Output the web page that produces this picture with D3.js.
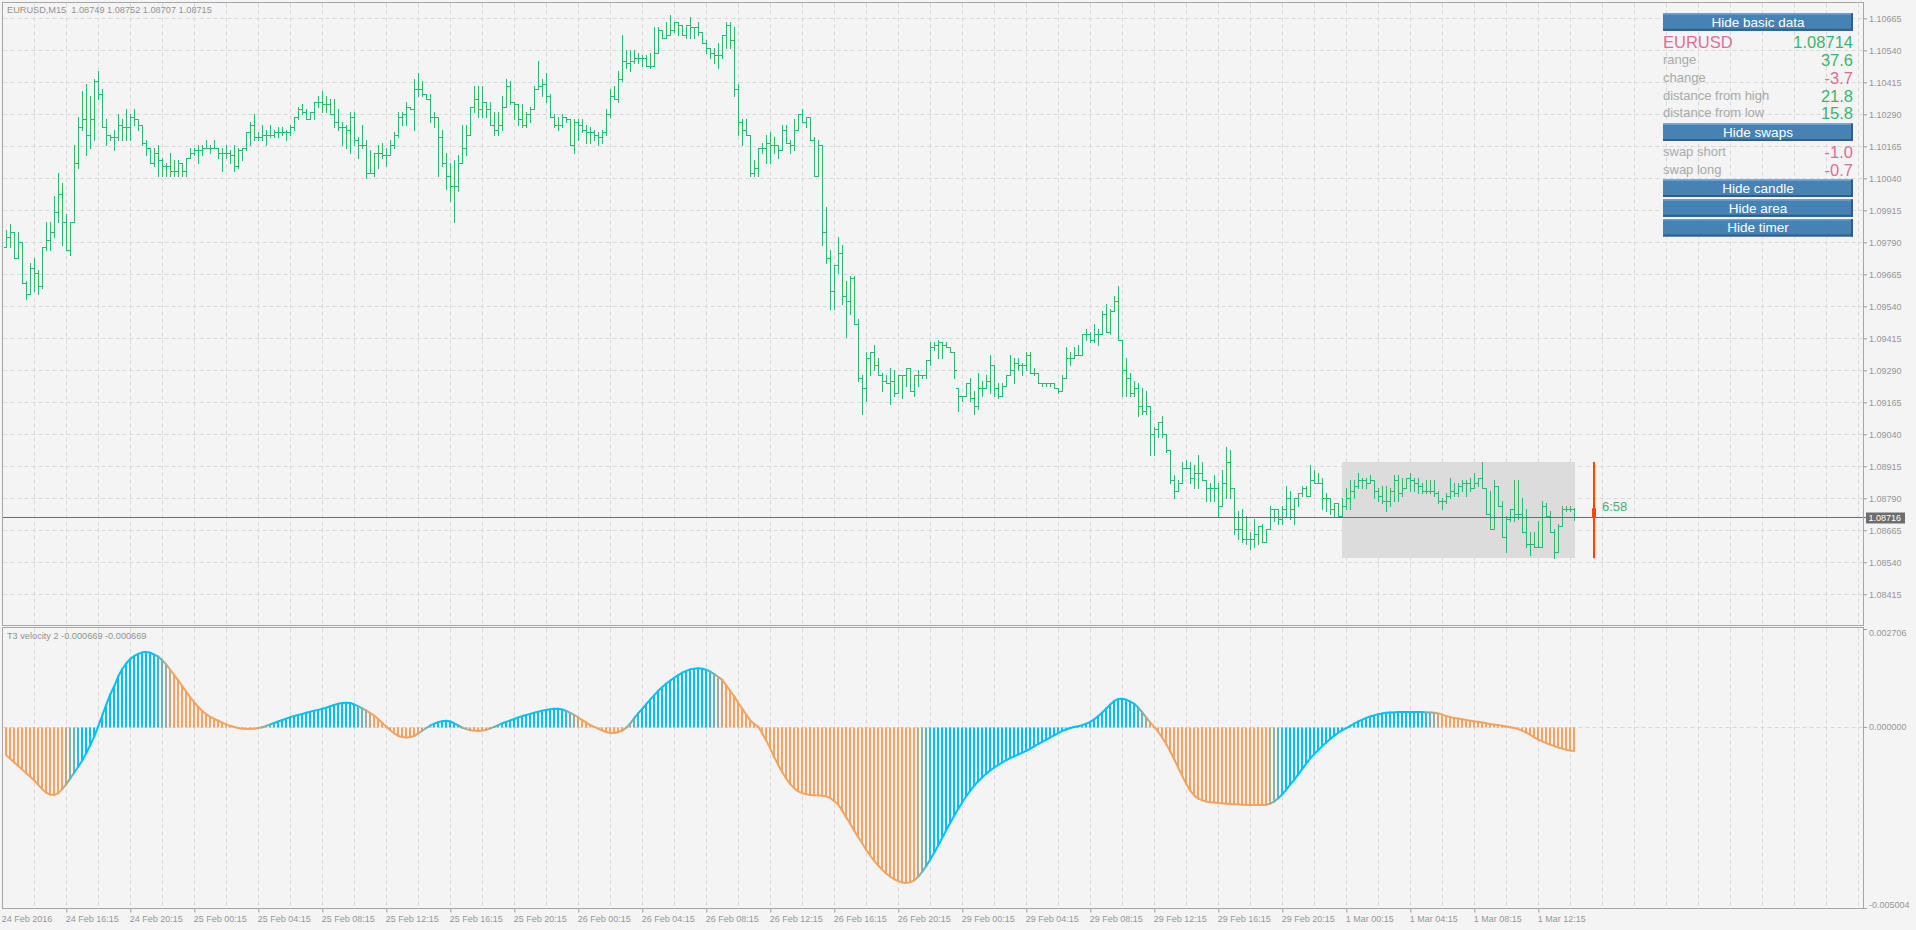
<!DOCTYPE html>
<html><head><meta charset="utf-8">
<script src="https://cdn.jsdelivr.net/npm/d3@7"></script>
<style>html,body{margin:0;padding:0;background:#f4f4f4;overflow:hidden}svg{display:block}text{font-family:"Liberation Sans",Arial,sans-serif}</style>
</head><body>
<svg id="c" width="1916" height="930"></svg>
<script>
// ---------- DATA ----------
const symbol = "EURUSD";
const timeframe = "M15";
const indicatorName = "T3 velocity 2";
const priceTicks = [1.10665,1.10540,1.10415,1.10290,1.10165,1.10040,1.09915,1.09790,1.09665,1.09540,1.09415,1.09290,1.09165,1.09040,1.08915,1.08790,1.08665,1.08540,1.08415];
const velocityTicks = [0.002706, 0, -0.005004];
const timeLabels = ["24 Feb 2016","24 Feb 16:15","24 Feb 20:15","25 Feb 00:15","25 Feb 04:15","25 Feb 08:15","25 Feb 12:15","25 Feb 16:15","25 Feb 20:15","26 Feb 00:15","26 Feb 04:15","26 Feb 08:15","26 Feb 12:15","26 Feb 16:15","26 Feb 20:15","29 Feb 00:15","29 Feb 04:15","29 Feb 08:15","29 Feb 12:15","29 Feb 16:15","29 Feb 20:15","1 Mar 00:15","1 Mar 04:15","1 Mar 08:15","1 Mar 12:15"];

const opens = [
1.0977,1.0981,1.0983,1.0973,1.0979,1.0963,1.0959,1.0969,1.0967,1.0962,
1.0977,1.0980,1.0983,1.0991,1.0998,1.0987,1.0976,1.0987,1.1010,1.1024,
1.1027,1.1021,1.1027,1.1042,1.1037,1.1024,1.1021,1.1020,1.1020,1.1025,
1.1024,1.1024,1.1028,1.1027,1.1025,1.1018,1.1016,1.1010,1.1014,1.1011,
1.1009,1.1009,1.1007,1.1007,1.1010,1.1007,1.1012,1.1014,1.1015,1.1015,
1.1016,1.1016,1.1016,1.1016,1.1014,1.1014,1.1014,1.1013,1.1009,1.1015,
1.1016,1.1022,1.1025,1.1020,1.1020,1.1021,1.1021,1.1021,1.1022,1.1022,
1.1022,1.1022,1.1024,1.1028,1.1031,1.1030,1.1027,1.1030,1.1034,1.1034,
1.1033,1.1033,1.1029,1.1026,1.1024,1.1024,1.1023,1.1028,1.1019,1.1017,
1.1017,1.1006,1.1006,1.1014,1.1014,1.1013,1.1013,1.1017,1.1021,1.1028,
1.1029,1.1032,1.1031,1.1039,1.1039,1.1037,1.1035,1.1028,1.1028,1.1020,
1.1010,1.1005,1.1001,1.1001,1.1010,1.1016,1.1021,1.1032,1.1035,1.1031,
1.1034,1.1031,1.1025,1.1023,1.1025,1.1032,1.1040,1.1034,1.1033,1.1027,
1.1025,1.1029,1.1031,1.1039,1.1040,1.1041,1.1036,1.1028,1.1025,1.1025,
1.1028,1.1027,1.1017,1.1026,1.1025,1.1023,1.1022,1.1022,1.1021,1.1020,
1.1022,1.1029,1.1036,1.1035,1.1043,1.1050,1.1049,1.1050,1.1051,1.1051,
1.1051,1.1048,1.1048,1.1053,1.1062,1.1059,1.1060,1.1062,1.1065,1.1064,
1.1060,1.1064,1.1063,1.1063,1.1061,1.1057,1.1055,1.1053,1.1052,1.1052,
1.1060,1.1064,1.1058,1.1039,1.1026,1.1023,1.1021,1.1006,1.1008,1.1016,
1.1016,1.1018,1.1017,1.1017,1.1015,1.1023,1.1018,1.1017,1.1023,1.1029,
1.1026,1.1028,1.1019,1.1005,1.1017,1.0983,1.0973,1.0960,1.0970,1.0975,
1.0958,1.0956,1.0965,1.0947,1.0926,1.0922,1.0934,1.0936,1.0931,1.0927,
1.0925,1.0924,1.0925,1.0920,1.0927,1.0927,1.0930,1.0921,1.0927,1.0927,
1.0927,1.0933,1.0938,1.0939,1.0940,1.0939,1.0938,1.0936,1.0922,1.0919,
1.0919,1.0924,1.0918,1.0915,1.0922,1.0922,1.0925,1.0931,1.0922,1.0919,
1.0923,1.0927,1.0929,1.0932,1.0931,1.0931,1.0935,1.0928,1.0928,1.0924,
1.0924,1.0924,1.0924,1.0922,1.0921,1.0926,1.0934,1.0934,1.0935,1.0935,
1.0943,1.0943,1.0941,1.0943,1.0943,1.0951,1.0944,1.0952,1.0956,1.0941,
1.0929,1.0926,1.0920,1.0922,1.0915,1.0913,1.0915,1.0904,1.0906,1.0909,
1.0904,1.0898,1.0886,1.0882,1.0885,1.0891,1.0891,1.0887,1.0889,1.0889,
1.0886,1.0883,1.0883,1.0883,1.0876,1.0885,1.0893,1.0883,1.0867,1.0867,
1.0863,1.0863,1.0863,1.0865,1.0868,1.0862,1.0867,1.0875,1.0875,1.0871,
1.0875,1.0879,1.0875,1.0879,1.0881,1.0883,1.0880,1.0886,1.0885,1.0885,
1.0879,1.0879,1.0875,1.0877,1.0872,1.0876,1.0879,1.0882,1.0884,1.0886,
1.0886,1.0885,1.0886,1.0882,1.0880,1.0878,1.0878,1.0882,1.0886,1.0881,
1.0883,1.0887,1.0886,1.0885,1.0884,1.0882,1.0882,1.0882,1.0881,1.0878,
1.0878,1.0880,1.0882,1.0881,1.0884,1.0885,1.0885,1.0883,1.0885,1.0887,
1.0883,1.0873,1.0867,1.0884,1.0876,1.0864,1.0871,1.0875,1.0873,1.0873,
1.0866,1.0861,1.0861,1.0860,1.0860,1.0876,1.0872,1.0866,1.0858,1.0868,
1.0875,1.0875,1.08749];

const highs = [
1.0984,1.0986,1.0983,1.0983,1.0979,1.0964,1.0971,1.0973,1.0968,1.0977,
1.0987,1.0987,1.0997,1.1006,1.1002,1.0990,1.0987,1.1017,1.1028,1.1038,
1.1041,1.1036,1.1043,1.1046,1.1039,1.1027,1.1021,1.1023,1.1029,1.1027,
1.1031,1.1029,1.1031,1.1027,1.1025,1.1019,1.1016,1.1016,1.1017,1.1012,
1.1010,1.1014,1.1011,1.1011,1.1010,1.1012,1.1016,1.1016,1.1017,1.1017,
1.1019,1.1017,1.1019,1.1016,1.1016,1.1017,1.1015,1.1017,1.1016,1.1016,
1.1022,1.1026,1.1029,1.1022,1.1025,1.1023,1.1025,1.1023,1.1024,1.1024,
1.1023,1.1025,1.1028,1.1032,1.1033,1.1031,1.1030,1.1034,1.1036,1.1038,
1.1036,1.1035,1.1035,1.1031,1.1026,1.1025,1.1030,1.1030,1.1020,1.1025,
1.1019,1.1015,1.1014,1.1017,1.1018,1.1016,1.1019,1.1022,1.1030,1.1030,
1.1034,1.1032,1.1043,1.1045,1.1042,1.1037,1.1037,1.1030,1.1028,1.1023,
1.1014,1.1010,1.1011,1.1013,1.1025,1.1025,1.1032,1.1040,1.1040,1.1040,
1.1034,1.1034,1.1030,1.1030,1.1036,1.1043,1.1042,1.1034,1.1033,1.1033,
1.1030,1.1032,1.1040,1.1050,1.1043,1.1045,1.1037,1.1029,1.1028,1.1029,
1.1028,1.1027,1.1027,1.1027,1.1027,1.1025,1.1024,1.1023,1.1022,1.1023,
1.1031,1.1039,1.1040,1.1046,1.1060,1.1054,1.1054,1.1054,1.1053,1.1052,
1.1052,1.1053,1.1063,1.1063,1.1062,1.1065,1.1068,1.1065,1.1065,1.1064,
1.1064,1.1067,1.1063,1.1065,1.1061,1.1058,1.1055,1.1055,1.1057,1.1060,
1.1065,1.1065,1.1063,1.1041,1.1027,1.1027,1.1021,1.1011,1.1016,1.1018,
1.1021,1.1022,1.1020,1.1017,1.1025,1.1025,1.1019,1.1027,1.1029,1.1031,
1.1028,1.1028,1.1020,1.1019,1.1017,1.0993,1.0976,1.0970,1.0981,1.0978,
1.0964,1.0966,1.0966,1.0949,1.0927,1.0936,1.0936,1.0939,1.0934,1.0928,
1.0927,1.0930,1.0929,1.0927,1.0927,1.0930,1.0930,1.0927,1.0929,1.0927,
1.0933,1.0940,1.0940,1.0941,1.0940,1.0940,1.0938,1.0936,1.0922,1.0919,
1.0924,1.0926,1.0921,1.0928,1.0925,1.0927,1.0935,1.0931,1.0924,1.0924,
1.0927,1.0935,1.0934,1.0934,1.0932,1.0936,1.0936,1.0930,1.0928,1.0924,
1.0924,1.0924,1.0924,1.0922,1.0927,1.0938,1.0936,1.0938,1.0939,1.0943,
1.0945,1.0944,1.0947,1.0945,1.0952,1.0955,1.0953,1.0958,1.0962,1.0941,
1.0934,1.0928,1.0925,1.0924,1.0922,1.0921,1.0915,1.0907,1.0909,1.0911,
1.0904,1.0898,1.0888,1.0886,1.0893,1.0894,1.0893,1.0892,1.0896,1.0893,
1.0886,1.0885,1.0888,1.0885,1.0890,1.0899,1.0898,1.0883,1.0874,1.0875,
1.0872,1.0866,1.0871,1.0868,1.0869,1.0867,1.0876,1.0875,1.0875,1.0876,
1.0884,1.0882,1.0879,1.0881,1.0884,1.0884,1.0892,1.0890,1.0889,1.0887,
1.0881,1.0879,1.0877,1.0877,1.0879,1.0883,1.0886,1.0886,1.0889,1.0887,
1.0887,1.0888,1.0886,1.0883,1.0884,1.0884,1.0883,1.0888,1.0888,1.0887,
1.0887,1.0889,1.0887,1.0887,1.0885,1.0886,1.0886,1.0886,1.0882,1.0879,
1.0881,1.0887,1.0885,1.0885,1.0886,1.0886,1.0887,1.0889,1.0887,1.08932,
1.0883,1.0882,1.0886,1.0884,1.0878,1.0872,1.0875,1.0886,1.0886,1.0879,
1.0875,1.0866,1.0866,1.0870,1.0878,1.0877,1.0874,1.0867,1.0869,1.0876,
1.0876,1.0876,1.08752];

const lows = [
1.0977,1.0977,1.0973,1.0973,1.0963,1.0957,1.0959,1.0960,1.0959,1.0961,
1.0976,1.0976,1.0981,1.0987,1.0978,1.0976,1.0974,1.0987,1.1008,1.1023,
1.1013,1.1016,1.1019,1.1035,1.1024,1.1017,1.1019,1.1015,1.1019,1.1019,
1.1019,1.1019,1.1025,1.1023,1.1017,1.1013,1.1010,1.1009,1.1005,1.1005,
1.1005,1.1005,1.1005,1.1005,1.1005,1.1005,1.1012,1.1013,1.1010,1.1013,
1.1016,1.1014,1.1016,1.1012,1.1007,1.1012,1.1010,1.1007,1.1008,1.1011,
1.1015,1.1017,1.1019,1.1019,1.1019,1.1017,1.1020,1.1020,1.1020,1.1021,
1.1019,1.1021,1.1023,1.1027,1.1029,1.1027,1.1027,1.1027,1.1032,1.1030,
1.1030,1.1029,1.1024,1.1023,1.1017,1.1016,1.1014,1.1017,1.1012,1.1016,
1.1004,1.1006,1.1005,1.1008,1.1012,1.1009,1.1013,1.1016,1.1020,1.1025,
1.1025,1.1031,1.1023,1.1036,1.1036,1.1035,1.1026,1.1024,1.1005,1.1009,
1.1000,1.0995,1.0987,1.0999,1.1010,1.1013,1.1021,1.1030,1.1028,1.1028,
1.1028,1.1025,1.1021,1.1021,1.1023,1.1032,1.1033,1.1027,1.1025,1.1024,
1.1024,1.1026,1.1031,1.1039,1.1036,1.1034,1.1028,1.1024,1.1023,1.1024,
1.1026,1.1017,1.1014,1.1019,1.1022,1.1018,1.1018,1.1019,1.1017,1.1018,
1.1021,1.1028,1.1035,1.1034,1.1042,1.1047,1.1046,1.1049,1.1049,1.1048,
1.1048,1.1047,1.1048,1.1053,1.1059,1.1059,1.1060,1.1061,1.1060,1.1060,
1.1059,1.1059,1.1059,1.1060,1.1057,1.1053,1.1051,1.1049,1.1047,1.1051,
1.1055,1.1055,1.1036,1.1021,1.1017,1.1021,1.1005,1.1005,1.1005,1.1014,
1.1010,1.1010,1.1014,1.1012,1.1015,1.1018,1.1014,1.1015,1.1023,1.1026,
1.1024,1.1019,1.1005,1.1005,1.0978,1.0971,1.0953,1.0953,1.0967,1.0955,
1.0942,1.0951,1.0947,1.0925,1.0912,1.0917,1.0927,1.0929,1.0927,1.0921,
1.0924,1.0916,1.0919,1.0920,1.0918,1.0923,1.0921,1.0919,1.0923,1.0926,
1.0926,1.0931,1.0937,1.0934,1.0934,1.0938,1.0936,1.0926,1.0913,1.0917,
1.0919,1.0917,1.0912,1.0914,1.0919,1.0922,1.0920,1.0919,1.0918,1.0919,
1.0923,1.0927,1.0924,1.0929,1.0927,1.0929,1.0928,1.0927,1.0924,1.0923,
1.0923,1.0923,1.0922,1.0920,1.0921,1.0926,1.0931,1.0934,1.0935,1.0935,
1.0941,1.0940,1.0940,1.0939,1.0943,1.0944,1.0943,1.0952,1.0941,1.0919,
1.0919,1.0919,1.0919,1.0911,1.0912,1.0912,1.0896,1.0896,1.0903,1.0903,
1.0897,1.0885,1.0879,1.0882,1.0885,1.0891,1.0885,1.0883,1.0883,1.0886,
1.0878,1.0878,1.0878,1.0872,1.0876,1.0879,1.0879,1.0865,1.0863,1.0862,
1.0861,1.0859,1.0860,1.0861,1.0862,1.0862,1.0867,1.0870,1.0869,1.0869,
1.0872,1.0871,1.0869,1.0876,1.0880,1.0880,1.0880,1.0885,1.0885,1.0875,
1.0874,1.0873,1.0872,1.0872,1.0872,1.0875,1.0875,1.0879,1.0883,1.0883,
1.0883,1.0885,1.0879,1.0878,1.0877,1.0874,1.0876,1.0878,1.0878,1.0880,
1.0883,1.0882,1.0882,1.0881,1.0881,1.0881,1.0881,1.0880,1.0877,1.0875,
1.0877,1.0879,1.0880,1.0880,1.0882,1.0880,1.0882,1.0883,1.0884,1.0883,
1.0873,1.0867,1.0867,1.0876,1.0864,1.0858,1.0870,1.0870,1.0871,1.0866,
1.0860,1.0857,1.0860,1.0860,1.0860,1.0872,1.0866,1.08556,1.0858,1.0868,
1.0874,1.0874,1.08707];

const closes = [
1.0981,1.0983,1.0973,1.0979,1.0963,1.0959,1.0969,1.0967,1.0962,1.0977,
1.0980,1.0983,1.0991,1.0998,1.0987,1.0976,1.0987,1.1010,1.1024,1.1027,
1.1021,1.1027,1.1042,1.1037,1.1024,1.1021,1.1020,1.1020,1.1025,1.1024,
1.1024,1.1028,1.1027,1.1025,1.1018,1.1016,1.1010,1.1014,1.1011,1.1009,
1.1009,1.1007,1.1007,1.1010,1.1007,1.1012,1.1014,1.1015,1.1015,1.1016,
1.1016,1.1016,1.1016,1.1014,1.1014,1.1014,1.1013,1.1009,1.1015,1.1016,
1.1022,1.1025,1.1020,1.1020,1.1021,1.1021,1.1021,1.1022,1.1022,1.1022,
1.1022,1.1024,1.1028,1.1031,1.1030,1.1027,1.1030,1.1034,1.1034,1.1033,
1.1033,1.1029,1.1026,1.1024,1.1024,1.1023,1.1028,1.1019,1.1017,1.1017,
1.1006,1.1006,1.1014,1.1014,1.1013,1.1013,1.1017,1.1021,1.1028,1.1029,
1.1032,1.1031,1.1039,1.1039,1.1037,1.1035,1.1028,1.1028,1.1020,1.1010,
1.1005,1.1001,1.1001,1.1010,1.1016,1.1021,1.1032,1.1035,1.1031,1.1034,
1.1031,1.1025,1.1023,1.1025,1.1032,1.1040,1.1034,1.1033,1.1027,1.1025,
1.1029,1.1031,1.1039,1.1040,1.1041,1.1036,1.1028,1.1025,1.1025,1.1028,
1.1027,1.1017,1.1026,1.1025,1.1023,1.1022,1.1022,1.1021,1.1020,1.1022,
1.1029,1.1036,1.1035,1.1043,1.1050,1.1049,1.1050,1.1051,1.1051,1.1051,
1.1048,1.1048,1.1053,1.1062,1.1059,1.1060,1.1062,1.1065,1.1064,1.1060,
1.1064,1.1063,1.1063,1.1061,1.1057,1.1055,1.1053,1.1052,1.1052,1.1060,
1.1064,1.1058,1.1039,1.1026,1.1023,1.1021,1.1006,1.1008,1.1016,1.1016,
1.1018,1.1017,1.1017,1.1015,1.1023,1.1018,1.1017,1.1023,1.1029,1.1026,
1.1028,1.1019,1.1005,1.1017,1.0983,1.0973,1.0960,1.0970,1.0975,1.0958,
1.0956,1.0965,1.0947,1.0926,1.0922,1.0934,1.0936,1.0931,1.0927,1.0925,
1.0924,1.0925,1.0920,1.0927,1.0927,1.0930,1.0921,1.0927,1.0927,1.0927,
1.0933,1.0938,1.0939,1.0940,1.0939,1.0938,1.0936,1.0929,1.0919,1.0919,
1.0924,1.0918,1.0915,1.0922,1.0922,1.0925,1.0931,1.0922,1.0919,1.0923,
1.0927,1.0929,1.0932,1.0931,1.0931,1.0935,1.0928,1.0928,1.0924,1.0924,
1.0924,1.0924,1.0922,1.0921,1.0926,1.0934,1.0934,1.0935,1.0935,1.0943,
1.0943,1.0941,1.0943,1.0943,1.0951,1.0944,1.0952,1.0956,1.0941,1.0929,
1.0926,1.0920,1.0922,1.0915,1.0913,1.0915,1.0904,1.0906,1.0909,1.0904,
1.0898,1.0886,1.0882,1.0885,1.0891,1.0891,1.0887,1.0889,1.0889,1.0886,
1.0883,1.0883,1.0883,1.0876,1.0885,1.0893,1.0883,1.0867,1.0867,1.0863,
1.0863,1.0863,1.0865,1.0868,1.0862,1.0867,1.0875,1.0875,1.0871,1.0875,
1.0879,1.0875,1.0879,1.0881,1.0883,1.0880,1.0886,1.0885,1.0885,1.0879,
1.0879,1.0875,1.0877,1.0872,1.0876,1.0879,1.0882,1.0884,1.0886,1.0886,
1.0885,1.0886,1.0882,1.0880,1.0878,1.0878,1.0882,1.0886,1.0881,1.0883,
1.0887,1.0886,1.0885,1.0884,1.0882,1.0882,1.0882,1.0881,1.0878,1.0878,
1.0880,1.0882,1.0881,1.0884,1.0885,1.0885,1.0883,1.0885,1.0887,1.0883,
1.0873,1.0867,1.0884,1.0876,1.0864,1.0871,1.0875,1.0873,1.0873,1.0866,
1.0861,1.0861,1.0860,1.0860,1.0876,1.0872,1.0866,1.0858,1.0868,1.0875,
1.0875,1.0875,1.08715];

const velocity = [
-78e-5,-88e-5,-98e-5,-108e-5,-118e-5,-128e-5,-138e-5,-148e-5,-160e-5,-172e-5,
-182e-5,-187e-5,-188e-5,-183e-5,-172e-5,-158e-5,-142e-5,-126e-5,-110e-5,-92e-5,
-72e-5,-50e-5,-26e-5,2e-5,32e-5,62e-5,90e-5,113e-5,140e-5,160e-5,
176e-5,188e-5,196e-5,202e-5,206e-5,207e-5,205e-5,200e-5,194e-5,184e-5,
172e-5,158e-5,143e-5,128e-5,113e-5,97e-5,82e-5,68e-5,55e-5,44e-5,
35e-5,28e-5,22e-5,17e-5,12e-5,7e-5,3e-5,0,-3e-5,-5e-5,
-6e-5,-6e-5,-5e-5,-3e-5,-1e-5,3e-5,7e-5,11e-5,15e-5,19e-5,
23e-5,27e-5,30e-5,33e-5,36e-5,39e-5,42e-5,45e-5,47e-5,50e-5,
53e-5,57e-5,61e-5,64e-5,66e-5,67e-5,66e-5,62e-5,57e-5,51e-5,
45e-5,38e-5,31e-5,21e-5,11e-5,1e-5,-9e-5,-18e-5,-25e-5,-28e-5,
-29e-5,-28e-5,-25e-5,-18e-5,-10e-5,-3e-5,4e-5,9e-5,13e-5,16e-5,
17e-5,15e-5,10e-5,4e-5,-2e-5,-6e-5,-9e-5,-10e-5,-11e-5,-10e-5,
-8e-5,-4e-5,0,5e-5,10e-5,14e-5,18e-5,22e-5,26e-5,30e-5,
33e-5,36e-5,39e-5,42e-5,45e-5,47e-5,49e-5,50e-5,50e-5,48e-5,
44e-5,39e-5,33e-5,26e-5,19e-5,12e-5,5e-5,0,-5e-5,-10e-5,
-14e-5,-17e-5,-17e-5,-14e-5,-10e-5,-2e-5,10e-5,24e-5,38e-5,50e-5,
63e-5,76e-5,88e-5,100e-5,110e-5,120e-5,128e-5,136e-5,143e-5,150e-5,
155e-5,159e-5,161e-5,162e-5,161e-5,158e-5,153e-5,146e-5,138e-5,130e-5,
115e-5,100e-5,84e-5,66e-5,50e-5,34e-5,18e-5,8e-5,0,-18e-5,
-38e-5,-60e-5,-84e-5,-105e-5,-125e-5,-143e-5,-158e-5,-170e-5,-178e-5,-183e-5,
-186e-5,-188e-5,-189e-5,-189e-5,-190e-5,-192e-5,-197e-5,-205e-5,-215e-5,-232e-5,
-250e-5,-268e-5,-287e-5,-305e-5,-322e-5,-340e-5,-356e-5,-370e-5,-383e-5,-395e-5,
-405e-5,-414e-5,-421e-5,-426e-5,-430e-5,-431e-5,-429e-5,-424e-5,-414e-5,-400e-5,
-384e-5,-366e-5,-347e-5,-327e-5,-306e-5,-285e-5,-265e-5,-245e-5,-226e-5,-208e-5,
-191e-5,-176e-5,-162e-5,-150e-5,-139e-5,-129e-5,-120e-5,-112e-5,-105e-5,-98e-5,
-92e-5,-86e-5,-81e-5,-76e-5,-71e-5,-66e-5,-60e-5,-54e-5,-47e-5,-41e-5,
-35e-5,-29e-5,-23e-5,-17e-5,-11e-5,-7e-5,-3e-5,0,2e-5,5e-5,
9e-5,14e-5,21e-5,30e-5,40e-5,51e-5,62e-5,72e-5,77e-5,78e-5,
75e-5,70e-5,64e-5,53e-5,40e-5,26e-5,12e-5,0,-14e-5,-30e-5,
-48e-5,-68e-5,-90e-5,-113e-5,-136e-5,-158e-5,-176e-5,-190e-5,-198e-5,-203e-5,
-206e-5,-208e-5,-209e-5,-210e-5,-211e-5,-212e-5,-213e-5,-214e-5,-214e-5,-215e-5,
-215e-5,-216e-5,-216e-5,-216e-5,-216e-5,-215e-5,-212e-5,-206e-5,-197e-5,-186e-5,
-173e-5,-159e-5,-146e-5,-131e-5,-116e-5,-101e-5,-87e-5,-75e-5,-64e-5,-53e-5,
-43e-5,-33e-5,-24e-5,-16e-5,-9e-5,-3e-5,3e-5,9e-5,15e-5,20e-5,
25e-5,29e-5,32e-5,35e-5,37e-5,39e-5,40e-5,40e-5,41e-5,41e-5,
41e-5,41e-5,41e-5,41e-5,41e-5,40e-5,40e-5,39e-5,37e-5,34e-5,
30e-5,27e-5,25e-5,23e-5,21e-5,19e-5,17e-5,15e-5,14e-5,12e-5,
10e-5,8e-5,6e-5,5e-5,3e-5,1e-5,-1e-5,-3e-5,-6e-5,-10e-5,
-16e-5,-22e-5,-29e-5,-35e-5,-40e-5,-45e-5,-49e-5,-53e-5,-57e-5,-60e-5,
-63e-5,-65e-5,-66.9e-5];

const bidPrice = 1.08716;
const dayCandle = [1.08751, 1.08932, 1.08556, 1.08714]; // open, high, low, close
const dayStartBar = 334;
const timerText = "6:58";
const basicLabels = ["range","change","distance from high","distance from low"];
const basicValues = [37.6, -3.7, 21.8, 15.8];
const swapLabels = ["swap short","swap long"];
const swapValues = [-1.0, -0.7];
const buttonLabels = ["Hide basic data","Hide swaps","Hide candle","Hide area","Hide timer"];

// ---------- DRAW ----------
const svg = d3.select("#c");
const GREEN = "#2fb86e", PINK = "#db7093", VGREEN = "#3cb371", GREY = "#969696";
const BLUE_H = "#00bfff", ORANGE_H = "#f4a460";
const pL = 2.5, pR = 1863.5, t1 = 2.5, b1 = 625.5, t2 = 627.5, b2 = 908.5;

svg.append("rect").attr("width",1916).attr("height",930).attr("fill","#f4f4f4");

const x = d3.scaleLinear().domain([0,1]).range([6.3,10.3]);
const yP = d3.scaleLinear().domain([1.08295,1.10729]).range([625,2]);
const yV = d3.scaleLinear().domain([-0.005004,0.002706]).range([908,629]);
const px = v => Math.round(v) + 0.5;

// grid
const grid = svg.append("g").attr("stroke","#d9d9d9").attr("stroke-dasharray","4,3").attr("fill","none");
const gridIdx = d3.range(1,59).map(m => -1 + 8*m);
grid.selectAll("line.gv1").data(gridIdx).join("line").attr("class","gv1")
  .attr("x1",d=>px(x(d))).attr("x2",d=>px(x(d))).attr("y1",t1+1).attr("y2",b1-1);
grid.selectAll("line.gv2").data(gridIdx).join("line").attr("class","gv2")
  .attr("x1",d=>px(x(d))).attr("x2",d=>px(x(d))).attr("y1",t2+1).attr("y2",b2-1);
grid.selectAll("line.gh").data(priceTicks).join("line").attr("class","gh")
  .attr("x1",pL+1).attr("x2",pR-1).attr("y1",d=>px(yP(d))).attr("y2",d=>px(yP(d)));
grid.append("line").attr("x1",pL+1).attr("x2",pR-1).attr("y1",px(yV(0))).attr("y2",px(yV(0)));

// day area box
svg.append("rect")
  .attr("x", Math.round(x(dayStartBar))).attr("width", Math.round(x(closes.length-1)) - Math.round(x(dayStartBar)) + 1)
  .attr("y", Math.round(yP(dayCandle[1]))).attr("height", Math.round(yP(dayCandle[2])) - Math.round(yP(dayCandle[1])))
  .attr("fill","#dcdcdc");

// price bars
svg.append("g").attr("stroke",GREEN).attr("stroke-width",1).attr("fill","none")
  .selectAll("path").data(closes).join("path")
  .attr("d",(c,k)=>{
    const xx = px(x(k));
    return `M${xx},${Math.round(yP(highs[k]))}V${Math.round(yP(lows[k]))+1}`+
      `M${xx-2.5},${px(yP(opens[k]))}H${xx}`+
      `M${xx},${px(yP(c))}H${xx+2.5}`;
  });

// bid line
svg.append("line").attr("x1",pL).attr("x2",1866).attr("y1",px(yP(bidPrice))).attr("y2",px(yP(bidPrice)))
  .attr("stroke","#6e6e6e").attr("stroke-width",1);

// day candle
const cx = Math.round(x(closes.length-1)) + 20;
svg.append("rect").attr("x",cx-1).attr("width",2).attr("y",yP(dayCandle[1])).attr("height",yP(dayCandle[2])-yP(dayCandle[1])).attr("fill","#ff4500");
svg.append("rect").attr("x",cx-2).attr("width",4).attr("y",yP(dayCandle[0])).attr("height",yP(dayCandle[3])-yP(dayCandle[0])).attr("fill","#ff4500");
svg.append("text").attr("x",cx+8).attr("y",511).attr("font-size",13).attr("fill",VGREEN).text(timerText);

// velocity histogram — colour steps follow the direction of the velocity
const LAG = 6, STEPS = 5;
const stepState = [];
let s = 0, dir = -1;
velocity.forEach((v,k)=>{
  const prev = velocity[Math.max(0,k-LAG)];
  if (v > prev) dir = 1; else if (v < prev) dir = -1;
  s = Math.max(0, Math.min(STEPS, s + dir));
  stepState.push(s);
});
const colorAt = k => d3.interpolateRgb(ORANGE_H, BLUE_H)(stepState[k]/STEPS);
const y0 = px(yV(0));
svg.append("g").selectAll("rect").data(velocity).join("rect")
  .attr("x",(v,k)=>Math.round(x(k))-1).attr("width",2)
  .attr("y",v=>Math.min(y0,yV(v))).attr("height",v=>Math.max(1,Math.abs(yV(v)-y0)))
  .attr("fill",(v,k)=>colorAt(k));
svg.append("g").attr("stroke-width",2).attr("stroke-linecap","round")
  .selectAll("line").data(velocity.slice(1)).join("line")
  .attr("x1",(v,k)=>x(k)).attr("y1",(v,k)=>yV(velocity[k]))
  .attr("x2",(v,k)=>x(k+1)).attr("y2",v=>yV(v))
  .attr("stroke",(v,k)=>colorAt(k+1));

// frames
svg.append("rect").attr("x",pL).attr("y",t1).attr("width",pR-pL).attr("height",b1-t1).attr("fill","none").attr("stroke","#a6a6a6");
svg.append("rect").attr("x",pL).attr("y",t2).attr("width",pR-pL).attr("height",b2-t2).attr("fill","none").attr("stroke","#a6a6a6");

// axes
const styleAxis = g => {
  g.select(".domain").remove();
  g.selectAll("line").attr("stroke","#a0a0a0");
  g.selectAll("text").attr("fill",GREY).attr("font-size",9).attr("font-family","Liberation Sans, Arial, sans-serif");
};
svg.append("g").attr("transform",`translate(${pR-0.5},0)`)
  .call(d3.axisRight(yP).tickValues(priceTicks).tickFormat(d=>d.toFixed(5)).tickSize(4).tickPadding(2))
  .call(styleAxis);
const vAxis = svg.append("g").attr("transform",`translate(${pR-0.5},0)`)
  .call(d3.axisRight(yV).tickValues(velocityTicks).tickFormat(d=>d.toFixed(6)).tickSize(4).tickPadding(2))
  .call(styleAxis);
vAxis.selectAll("text").attr("dy",(d)=> d>0 ? "0.75em" : (d<0 ? "-0.1em" : "0.32em"));

const labelIdx = timeLabels.map((s,m)=> -1 + 16*m);
const xAxis = svg.append("g").attr("transform",`translate(0,${b2})`)
  .call(d3.axisBottom(x).tickValues(labelIdx).tickFormat((d,i)=>timeLabels[i]).tickSize(4).tickPadding(3))
  .call(styleAxis);
xAxis.selectAll("text").attr("text-anchor","start").attr("x",-1);
xAxis.selectAll(".tick").filter((d,i)=>i===0).select("line").remove();

// bid label
const by = px(yP(bidPrice));
svg.append("rect").attr("x",1866).attr("y",by-5).attr("width",39).attr("height",11).attr("fill","#6e6e6e");
svg.append("text").attr("x",1868.5).attr("y",by+3.5).attr("font-size",9).attr("fill","#fff").text(bidPrice.toFixed(5));

// titles
const last = closes.length-1;
svg.append("text").attr("x",7).attr("y",12.5).attr("font-size",9.2).attr("fill","#929292")
  .attr("xml:space","preserve")
  .text(`${symbol},${timeframe}  ${opens[last].toFixed(5)} ${highs[last].toFixed(5)} ${lows[last].toFixed(5)} ${closes[last].toFixed(5)}`);
svg.append("text").attr("x",7).attr("y",639).attr("font-size",9.2).attr("fill","#929292")
  .text(`${indicatorName} ${velocity[last].toFixed(6)} ${velocity[last].toFixed(6)}`);

// info panel
const panelX = 1663, panelR = 1853;
const button = (label, y0) => {
  const g = svg.append("g");
  g.append("rect").attr("x",panelX).attr("y",y0).attr("width",panelR-panelX).attr("height",17.5).attr("fill","#4682b4");
  g.append("rect").attr("x",panelX).attr("y",y0).attr("width",panelR-panelX).attr("height",1.5).attr("fill","#6d9ccc");
  g.append("rect").attr("x",panelX).attr("y",y0+15.5).attr("width",panelR-panelX).attr("height",2).attr("fill","#2d5e8e");
  g.append("rect").attr("x",panelR-2).attr("y",y0).attr("width",2).attr("height",17.5).attr("fill","#2d5e8e");
  g.append("text").attr("x",(panelX+panelR)/2).attr("y",y0+13.3).attr("text-anchor","middle")
    .attr("font-size",13.5).attr("fill","#ffffff").text(label);
};
const btnY = [13.3, 123.5, 179.5, 199.3, 219];
buttonLabels.forEach((b,i)=>button(b, btnY[i]));

svg.append("text").attr("x",panelX).attr("y",48.3).attr("font-size",16.5).attr("fill",PINK).text(symbol);
svg.append("text").attr("x",panelR).attr("y",48.3).attr("font-size",16.5).attr("fill",VGREEN).attr("text-anchor","end").text(dayCandle[3].toFixed(5));
const rowY = [65, 82.5, 100.5, 118.3];
basicLabels.forEach((l,i)=>{
  svg.append("text").attr("x",panelX).attr("y",rowY[i]-1).attr("font-size",13).attr("fill","#a9a9a9").text(l);
  svg.append("text").attr("x",panelR).attr("y",rowY[i]+1).attr("font-size",16.5).attr("text-anchor","end")
    .attr("fill",basicValues[i]<0?PINK:VGREEN).text(basicValues[i].toFixed(1));
});
const swapY = [156.5, 174.5];
swapLabels.forEach((l,i)=>{
  svg.append("text").attr("x",panelX).attr("y",swapY[i]-1).attr("font-size",13).attr("fill","#a9a9a9").text(l);
  svg.append("text").attr("x",panelR).attr("y",swapY[i]+1).attr("font-size",16.5).attr("text-anchor","end")
    .attr("fill",swapValues[i]<0?PINK:VGREEN).text(swapValues[i].toFixed(1));
});
</script>
</body></html>
